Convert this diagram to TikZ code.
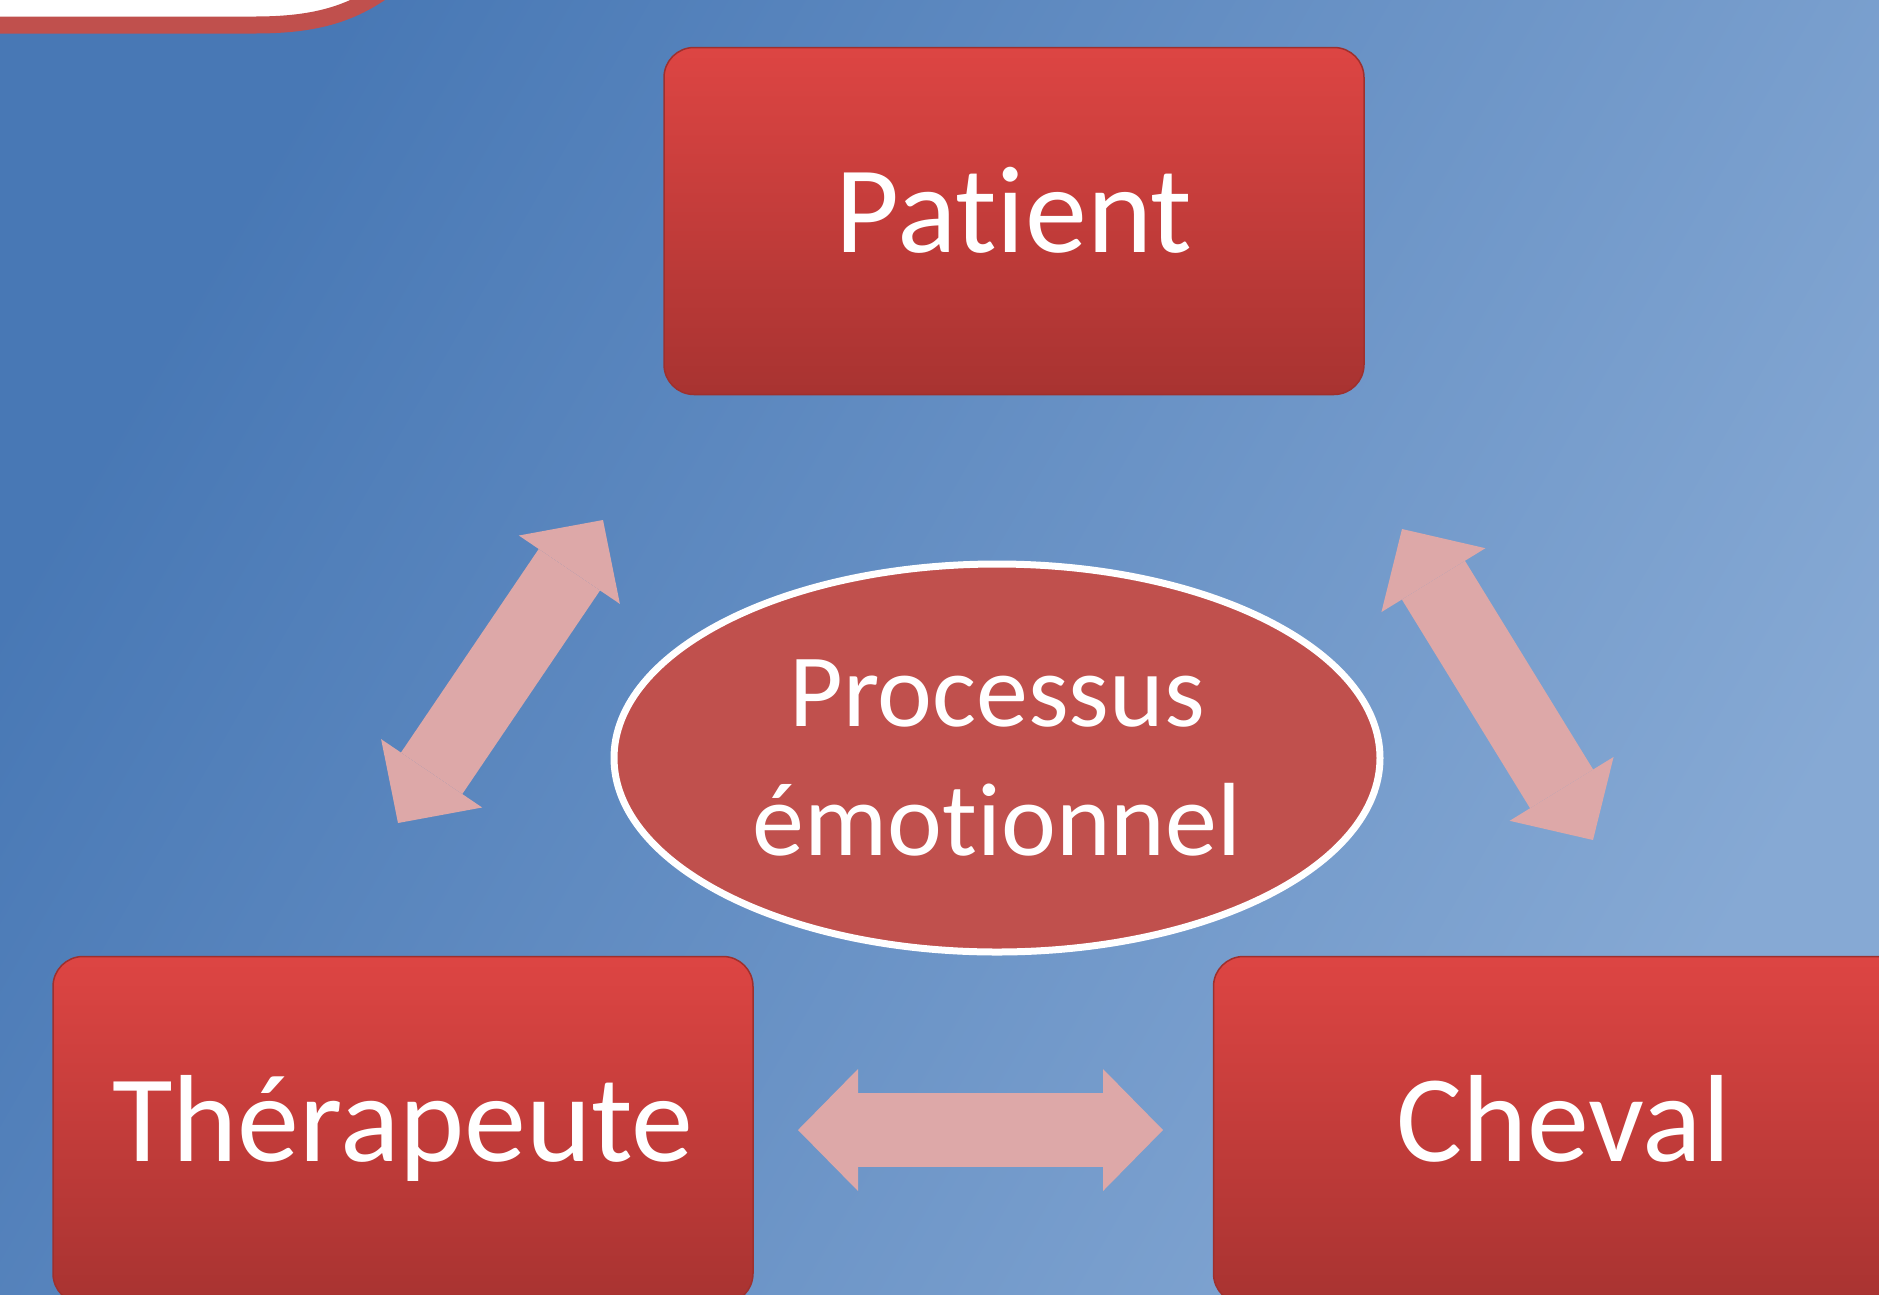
\documentclass[tikz,border=0pt]{standalone}
\usepackage{fontspec}
\setmainfont{Carlito}[Ligatures={NoCommon}]
\usetikzlibrary{arrows.meta,shapes.geometric,positioning}

\definecolor{bgdark}{HTML}{4878B5}
\definecolor{bglight}{HTML}{86A9D4}
\definecolor{boxtop}{HTML}{DD4543}
\definecolor{boxbot}{HTML}{A83331}
\definecolor{boxedge}{HTML}{9E302E}
\definecolor{procred}{HTML}{C0504D}
\definecolor{arrowpink}{HTML}{DDA8A8}

\begin{document}
\begin{tikzpicture}[x=1pt,y=1pt,>={Triangle[width=122pt,length=60pt,line width=0pt]},
  box node/.style={rectangle,rounded corners=30pt,top color=boxtop,bottom color=boxbot,
    draw=boxedge,line width=1.5pt,
    text=white,minimum width=700pt,minimum height=347pt,inner sep=0pt,
    text height=90pt,text depth=28pt,font=\fontsize{124}{150}\selectfont},
  proc node/.style={ellipse,fill=procred,draw=white,line width=7pt,text=white,
    minimum width=766pt,minimum height=388pt,inner sep=0pt,align=center,
    font=\fontsize{104}{129}\selectfont},
  block arrow/.style={<->,line width=74pt,draw=arrowpink}]

  \useasboundingbox (0,0) rectangle (1879,-1294);
  \clip (0,0) rectangle (1879,-1294);
  \shade[left color=bgdark,right color=bglight,shading angle=60] (0,0) rectangle (1879,-1294);

  % corner of the title banner
  \draw[line width=17pt,draw=procred,fill=white] (-30,40) -- (-30,-25) -- (255,-25)
    .. controls (320,-25) and (355,-12) .. (390,14) -- cycle;

  \node[box node] (patient) at (1014,-221) {Patient};
  \node[proc node] (proc) at (997,-758) {Processus\\émotionnel};
  \node[box node] (therap) at (403,-1130) {Thérapeute};
  \node[box node] (cheval) [right=459pt of therap] {Cheval};

  % arrow ends
  \coordinate (tp1) at (398,-823);
  \coordinate (tp2) at (603,-520);
  \coordinate (pc1) at (1402,-529);
  \coordinate (pc2) at (1593,-840);
  \coordinate (tc1) at (798,-1130);
  \coordinate (tc2) at (1163,-1130);

  \draw[block arrow] (tp1) -- (tp2);
  \draw[block arrow] (pc1) -- (pc2);
  \draw[block arrow] (tc1) -- (tc2);

\end{tikzpicture}
\end{document}
